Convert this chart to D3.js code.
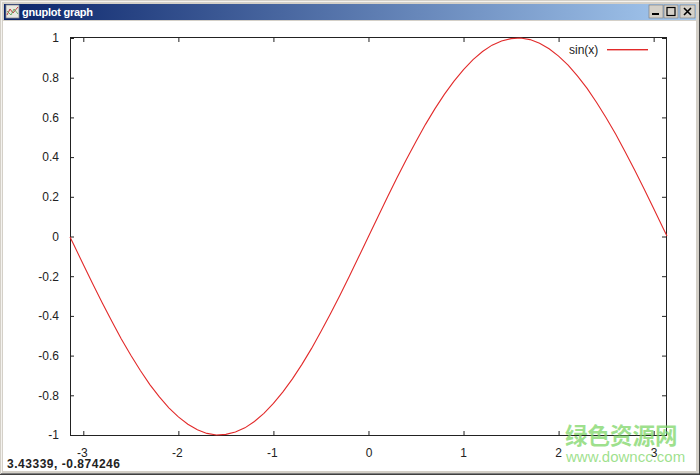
<!DOCTYPE html>
<html><head><meta charset="utf-8">
<script src="https://cdn.jsdelivr.net/npm/d3@7"></script>
<style>html,body{margin:0;padding:0;background:#fff;overflow:hidden}svg{display:block}text{font-family:"Liberation Sans",Arial,sans-serif}</style>
</head><body><svg id="c" width="700" height="475"></svg>
<script>
const xValues=[-3.14,-3.1,-3.0,-2.9,-2.8,-2.7,-2.6,-2.5,-2.4,-2.3,-2.2,-2.1,-2.0,-1.9,-1.8,-1.7,-1.6,-1.5,-1.4,-1.3,-1.2,-1.1,-1.0,-0.9,-0.8,-0.7,-0.6,-0.5,-0.4,-0.3,-0.2,-0.1,0,0.1,0.2,0.3,0.4,0.5,0.6,0.7,0.8,0.9,1.0,1.1,1.2,1.3,1.4,1.5,1.6,1.7,1.8,1.9,2.0,2.1,2.2,2.3,2.4,2.5,2.6,2.7,2.8,2.9,3.0,3.1,3.14];
const yValues=[-0.002,-0.042,-0.141,-0.239,-0.335,-0.427,-0.516,-0.598,-0.675,-0.746,-0.808,-0.863,-0.909,-0.946,-0.974,-0.992,-1.0,-0.997,-0.985,-0.964,-0.932,-0.891,-0.841,-0.783,-0.717,-0.644,-0.565,-0.479,-0.389,-0.296,-0.199,-0.1,0,0.1,0.199,0.296,0.389,0.479,0.565,0.644,0.717,0.783,0.841,0.891,0.932,0.964,0.985,0.997,1.0,0.992,0.974,0.946,0.909,0.863,0.808,0.746,0.675,0.598,0.516,0.427,0.335,0.239,0.141,0.042,0.002];
const xTicks=[-3,-2,-1,0,1,2,3];
const yTicks=[-1,-0.8,-0.6,-0.4,-0.2,0,0.2,0.4,0.6,0.8,1];
const seriesName="sin(x)";
const windowTitle="gnuplot graph";
const statusText="3.43339, -0.874246";
const watermarkCn="绿色资源网";
const watermarkEn="www.downcc.com";

const svg=d3.select("#c");
const L=70,R=666,T=38,B=435;
const x=d3.scaleLinear().domain([-3.14,3.13]).range([L,R]);
const y=d3.scaleLinear().domain([-1,1]).range([B,T]);

// window chrome
svg.append("rect").attr("width",700).attr("height",475).attr("fill","#d4d0c8");
svg.append("rect").attr("x",1).attr("y",1).attr("width",698).attr("height",1).attr("fill","#f4f2ee");
svg.append("rect").attr("x",1).attr("y",1).attr("width",1).attr("height",472).attr("fill","#f4f2ee");
svg.append("rect").attr("x",0).attr("y",474).attr("width",700).attr("height",1).attr("fill","#404040");
svg.append("rect").attr("x",699).attr("y",0).attr("width",1).attr("height",475).attr("fill","#404040");
svg.append("rect").attr("x",1).attr("y",473).attr("width",698).attr("height",1).attr("fill","#808080");
const grad=svg.append("defs").append("linearGradient").attr("id","tb");
grad.append("stop").attr("offset","0").attr("stop-color","#0a246a");
grad.append("stop").attr("offset","1").attr("stop-color","#a6caf0");
svg.append("rect").attr("x",4).attr("y",4).attr("width",692).attr("height",16).attr("fill","url(#tb)");
svg.append("rect").attr("x",3).attr("y",21).attr("width",693).attr("height",450).attr("fill","#fff");
// title icon
svg.append("rect").attr("x",6).attr("y",5).attr("width",13).attr("height",13).attr("fill","#e8e8e0").attr("stroke","#8a8a90").attr("stroke-width",0.8);
svg.append("path").attr("d","M7 15 L10 9 L13 13 L18 7").attr("fill","none").attr("stroke","#c04040").attr("stroke-width",1);
svg.append("path").attr("d","M7 11 L11 15 L14 9 L18 14").attr("fill","none").attr("stroke","#50a050").attr("stroke-width",0.8);
svg.append("text").attr("x",22).attr("y",16).attr("font-size",11).attr("font-weight","bold").attr("fill","#fff").attr("textLength",71).text(windowTitle);
// window buttons
const buttons=[[649,"min"],[664,"max"],[680,"close"]];
buttons.forEach(([bx,k])=>{
  const w=k==="close"?15:14;
  svg.append("rect").attr("x",bx).attr("y",5).attr("width",w).attr("height",13).attr("fill","#d4d0c8").attr("stroke","#777").attr("stroke-width",0.6);
  if(k==="min")svg.append("rect").attr("x",bx+3).attr("y",13).attr("width",7).attr("height",2).attr("fill","#000");
  if(k==="max")svg.append("rect").attr("x",bx+3).attr("y",7.5).attr("width",8).attr("height",8).attr("fill","none").attr("stroke","#000").attr("stroke-width",1.2);
  if(k==="close")svg.append("path").attr("d",`M${bx+4} 8 L${bx+11} 15 M${bx+11} 8 L${bx+4} 15`).attr("stroke","#000").attr("stroke-width",1.6);
});

// axes
const fmt=d=>String(d);
const styleAxis=g=>{
  g.select(".domain").remove();
  g.selectAll("line").attr("stroke","#222").attr("stroke-width",1);
  g.selectAll("text").attr("font-size",12).attr("fill","#222").style("font-family",'"Liberation Sans",Arial,sans-serif');
};
const bottomAxis=svg.append("g").attr("transform",`translate(0,${B})`).call(d3.axisBottom(x).tickValues(xTicks).tickFormat(fmt).tickSize(-4).tickPadding(13)).call(styleAxis);
bottomAxis.selectAll("text").attr("dx",d=>d<0?-1.5:(d>0&&d<3?-0.5:0));
svg.append("g").attr("transform",`translate(0,${T})`).call(d3.axisTop(x).tickValues(xTicks).tickFormat("").tickSize(-4)).call(styleAxis);
svg.append("g").attr("transform",`translate(${L},0)`).call(d3.axisLeft(y).tickValues(yTicks).tickFormat(fmt).tickSize(-4).tickPadding(11)).call(styleAxis);
svg.append("g").attr("transform",`translate(${R},0)`).call(d3.axisRight(y).tickValues(yTicks).tickFormat("").tickSize(-4)).call(styleAxis);
svg.append("rect").attr("x",L+.5).attr("y",T-.5).attr("width",R-L).attr("height",B-T+1).attr("fill","none").attr("stroke","#222").attr("stroke-width",1);

// series
const line=d3.line().x(d=>x(d[0])).y(d=>y(d[1]));
svg.append("path").datum(d3.zip(xValues,yValues)).attr("d",line).attr("fill","none").attr("stroke","#e22a2a").attr("stroke-width",1.1);

// legend
svg.append("text").attr("x",569).attr("y",54).attr("font-size",12).attr("fill","#222").text(seriesName);
svg.append("rect").attr("x",607).attr("y",49).attr("width",41).attr("height",1.4).attr("fill","#e22a2a");

// status
svg.append("text").attr("x",7).attr("y",468).attr("font-size",12).attr("font-weight","bold").attr("fill","#222").attr("textLength",113).text(statusText);

// watermark
svg.append("text").attr("x",565).attr("y",444).attr("font-size",22.5).attr("font-weight","bold").attr("fill","#7ed667").attr("fill-opacity",.75).style("font-family",'"Noto Sans CJK SC"').text(watermarkCn);
svg.append("text").attr("x",566).attr("y",462).attr("font-size",15).attr("fill","#7ed667").attr("fill-opacity",.75).text(watermarkEn);
</script></body></html>
